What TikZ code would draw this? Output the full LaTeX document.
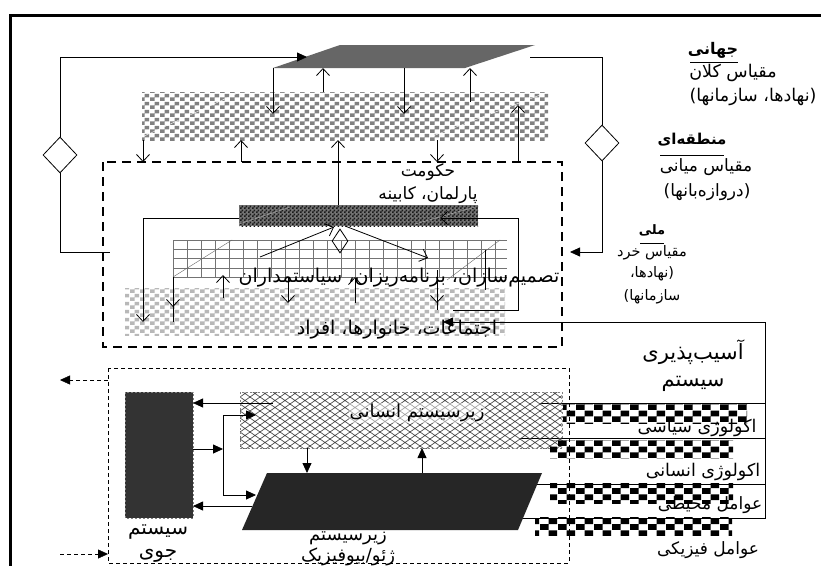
\documentclass[tikz,border=0pt]{standalone}
\usepackage{fontspec}
\usetikzlibrary{arrows.meta,patterns,shapes.geometric}
\TeXXeTstate=1
\newfontfamily\arabicfont[Script=Arabic]{DejaVu Sans}
\newcommand{\fa}[1]{{\arabicfont\beginR #1\endR}}
\newcommand{\fs}[1]{\fontsize{#1pt}{#1pt}\selectfont}
\pgfdeclarepatternformonly{chkA}{\pgfpointorigin}{\pgfqpoint{10pt}{8pt}}{\pgfqpoint{10pt}{8pt}}{%
 \pgfpathrectangle{\pgfpointorigin}{\pgfqpoint{5pt}{4pt}}%
 \pgfpathrectangle{\pgfqpoint{5pt}{4pt}}{\pgfqpoint{5pt}{4pt}}%
 \pgfusepath{fill}}
\pgfdeclarepatternformonly{chkB}{\pgfpointorigin}{\pgfqpoint{18pt}{12pt}}{\pgfqpoint{18pt}{12pt}}{%
 \pgfpathrectangle{\pgfpointorigin}{\pgfqpoint{9pt}{6pt}}%
 \pgfpathrectangle{\pgfqpoint{9pt}{6pt}}{\pgfqpoint{9pt}{6pt}}%
 \pgfusepath{fill}}
\pgfdeclarepatternformonly{chkC}{\pgfpointorigin}{\pgfqpoint{4pt}{4pt}}{\pgfqpoint{4pt}{4pt}}{%
 \pgfpathrectangle{\pgfpointorigin}{\pgfqpoint{2pt}{2pt}}%
 \pgfpathrectangle{\pgfqpoint{2pt}{2pt}}{\pgfqpoint{2pt}{2pt}}%
 \pgfusepath{fill}}
\pgfdeclarepatternformonly{meshA}{\pgfqpoint{-1pt}{-1pt}}{\pgfqpoint{11pt}{8pt}}{\pgfqpoint{10pt}{7pt}}{%
 \pgfsetlinewidth{0.7pt}%
 \pgfpathmoveto{\pgfqpoint{0pt}{0pt}}\pgfpathlineto{\pgfqpoint{10pt}{7pt}}%
 \pgfpathmoveto{\pgfqpoint{0pt}{7pt}}\pgfpathlineto{\pgfqpoint{10pt}{0pt}}%
 \pgfusepath{stroke}}
\begin{document}
\begin{tikzpicture}[x=1pt,y=-1pt,
  font=\fs{18},
  oa/.style={-{Straight Barb[length=7pt,width=13pt]}},
  fa/.style={-{Triangle[length=10pt,width=9pt]}},
  dia/.style={diamond,draw,thick,inner sep=0pt,fill=white},
  lbl/.style={inner sep=0pt},
  thinline/.style={line width=0.8pt}]
\useasboundingbox (0,0) rectangle (821,565);
\clip (0,0) rectangle (821,565);
\fill[white] (0,0) rectangle (821,565);
% outer frame
\draw[line width=3pt] (10,600) -- (10,15) -- (840,15);

% ---------- top part ----------
\fill[black!60] (273,68) -- (340,45) -- (535,45) -- (465,68) -- cycle;
\fill[pattern=chkA, pattern color=black!50] (142,92) rectangle (548,140);
\draw[white,thin] (142,137) -- (240,92) -- (548,92);
\draw[white,thin] (430,137) -- (548,92);

\node[dia, minimum width=34pt, minimum height=36pt] (dL) at (60,155) {};
\node[dia, minimum width=34pt, minimum height=36pt] (dR) at (602,143) {};
\coordinate (tpIn) at (307,57);
\coordinate (tpOut) at (530,57);
\coordinate (govL) at (110,252);
\coordinate (govR) at (570,252);
\draw[thinline,fa] (dL.north) |- (tpIn);
\draw[thinline] (tpOut) -| (dR.north);
\draw[thinline] (dL.south) |- (govL);
\draw[thinline,fa] (dR.south) |- (govR);

\draw[thinline,oa] (273,68) -- (273,114);
\draw[thinline,oa] (323,92) -- (323,68);
\draw[thinline,oa] (404,68) -- (404,114);
\draw[thinline,oa] (470,102) -- (470,68);

\draw[thinline,oa] (143,140) -- (143,162);
\draw[thinline,oa] (241,162) -- (241,140);
\draw[thinline,oa] (338,205) -- (338,140);
\draw[thinline,oa] (437,140) -- (437,162);
\draw[thinline,oa] (518,162) -- (518,105);

% government dashed box
\draw[line width=2.6pt, dash pattern=on 9pt off 6pt] (103,162) rectangle (562,347);

% lower light checker band
\fill[pattern=chkA, pattern color=black!28] (125,288) rectangle (505,335);

% grid
\foreach \gx in {173,187,...,507} \draw[black!55,thin] (\gx,240) -- (\gx,277);
\foreach \gy in {240,249,258,268,277} \draw[black!55,thin] (173,\gy) -- (507,\gy);
\draw[black!60,thin] (173,277) -- (232,240);
\draw[black!60,thin] (447,280) -- (500,240);

% dark band
\fill[black!55] (239,205) rectangle (478,226);
\fill[pattern=chkC, pattern color=black!90] (239,205) rectangle (478,226);
\draw[white!70!black,thin] (239,224) -- (290,207);
\draw[white!70!black,thin] (415,224) -- (475,207);

\node[lbl,font=\fs{17}] (gov) at (428,172) {\fa{حکومت}};
\node[lbl,font=\fs{17}] (parl) at (428,195) {\fa{پارلمان، کابینه}};

\draw[thinline,oa] (239,218) -| (143,322);
\draw[thinline,oa] (453,310) -- (518,310) -- (518,218) -- (440,218);

\node[diamond,draw,thick,inner sep=0pt, minimum width=16pt, minimum height=24pt] (dS) at (340,241) {};
\draw[thinline,oa] (260,257) -- (334,227);
\draw[thinline,oa] (345,226) -- (428,258);

\draw[thinline] (173,277) -- (173,322);
\draw[thinline,oa] (173,277) -- (173,307);
\draw[thinline,oa] (223,298) -- (223,275);
\draw[thinline,oa] (288,277) -- (288,303);
\draw[thinline,oa] (355,303) -- (355,277);
\draw[thinline] (437,270) -- (437,310);
\draw[thinline,oa] (437,270) -- (437,303);
\draw[thinline] (485,250) -- (485,290);

\node[lbl,font=\fs{19}] (dec) at (399,278) {\fa{تصمیم‌سازان، برنامه‌ریزان، سیاستمداران}};
\node[lbl,font=\fs{19}] (comm) at (397,330) {\fa{اجتماعات، خانوارها، افراد}};

% right bracket
\draw[thinline] (765,322) -- (765,518) -- (522,518);
\draw[thinline] (765,403) -- (540,403);
\draw[thinline] (765,438) -- (520,438);
\draw[thinline] (765,484) -- (535,484);
\draw[thinline,fa] (765,322) -- (443,322);

% ---------- lower part ----------
\draw[thin, dash pattern=on 4pt off 3pt] (108,368) rectangle (569,563);
\draw[thin, dash pattern=on 4pt off 3pt, fa] (108,380) -- (60,380);
\draw[thin, dash pattern=on 4pt off 3pt, fa] (60,554) -- (108,554);

\fill[black!80] (125,392) rectangle (193,518);
\draw[black!50, thin, dash pattern=on 2pt off 2pt] (125,392) rectangle (193,518);
\node[lbl,font=\fs{20}] (atm1) at (158,532) {\fa{سیستم}};
\node[lbl,font=\fs{20}] (atm2) at (158,556) {\fa{جوی}};

\fill[pattern=meshA, pattern color=black!70] (240,392) rectangle (562,448);
\draw[black!50, thin, dash pattern=on 2pt off 2pt] (240,392) rectangle (562,448);
\node[lbl,fill=white,fill opacity=0.5,text opacity=1,inner sep=1pt] (hum) at (417,413) {\fa{زیرسیستم انسانی}};

\fill[black!85] (267,473) -- (542,473) -- (518,530) -- (242,530) -- cycle;
\node[lbl,font=\fs{18},align=center,anchor=north] (geo) at (348,532) {\fa{زیرسیستم}\\[1pt]\fa{ژئو/بیوفیزیک}};

\draw[thinline,fa] (273,403) -- (193,403);
\draw[thinline,fa] (193,449) -- (223,449);
\draw[thinline] (223,415) -- (223,495);
\draw[thinline,fa] (223,415) -- (256,415);
\draw[thinline,fa] (223,495) -- (256,495);
\draw[thinline,fa] (252,506) -- (193,506);
\draw[thinline,fa] (307,448) -- (307,473);
\draw[thinline,fa] (422,473) -- (422,448);

% right checker rows
\fill[pattern=chkB, pattern color=black] (563,403) rectangle (747,423);
\fill[pattern=chkB, pattern color=black] (550,440) rectangle (733,458);
\fill[pattern=chkB, pattern color=black] (550,483) rectangle (733,503);
\fill[pattern=chkB, pattern color=black] (535,517) rectangle (732,535);

\node[lbl,font=\fs{17.5}] (eco1) at (697,428) {\fa{اکولوژی سیاسی}};
\node[lbl,font=\fs{17.5}] (eco2) at (703,472) {\fa{اکولوژی انسانی}};
\node[lbl,font=\fs{17}] (env) at (710,505) {\fa{عوامل محیطی}};
\node[lbl,font=\fs{17}] (phy) at (708,550) {\fa{عوامل فیزیکی}};
\node[lbl,font=\fs{21}] (vul1) at (693,352) {\fa{آسیب‌پذیری}};
\node[lbl,font=\fs{21}] (vul2) at (693,384) {\fa{سیستم}};

% scale labels
\node[lbl,font=\fs{16}\bfseries] (glob) at (713,50) {\fa{جهانی}};
\draw[thinline] (690,62) -- (738,62);
\node[lbl,font=\fs{17.5}] (glob2) at (733,73) {\fa{مقیاس کلان}};
\node[lbl,font=\fs{17.5}] (glob3) at (753,97) {\fa{(نهادها، سازمانها)}};

\node[lbl,font=\fs{15}\bfseries] (reg) at (692,140) {\fa{منطقه‌ای}};
\draw[thinline] (660,155) -- (724,155);
\node[lbl,font=\fs{17}] (reg2) at (706,167) {\fa{مقیاس میانی}};
\node[lbl,font=\fs{17}] (reg3) at (707,192) {\fa{(دروازه‌بانها)}};

\node[lbl,font=\fs{13}\bfseries] (nat) at (652,230) {\fa{ملی}};
\draw[thinline] (640,243) -- (664,243);
\node[lbl,font=\fs{14.5}] (nat2) at (652,253) {\fa{مقیاس خرد}};
\node[lbl,font=\fs{14.5}] (nat3) at (652,274) {\fa{(نهادها،}};
\node[lbl,font=\fs{14.5}] (nat4) at (652,297) {\fa{سازمانها)}};
\end{tikzpicture}
\end{document}
